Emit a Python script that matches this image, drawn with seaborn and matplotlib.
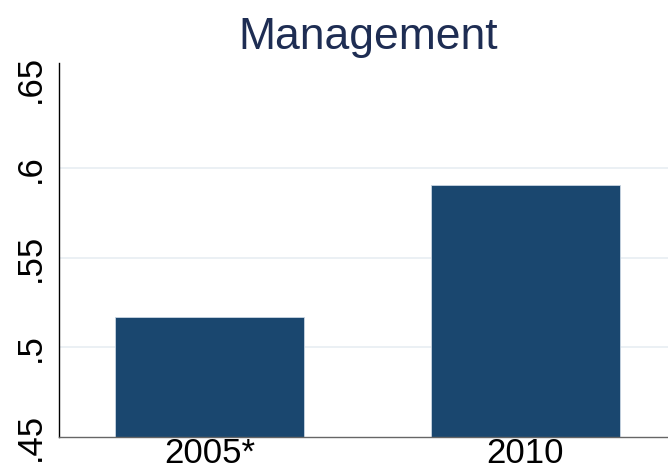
import pandas as pd
import seaborn as sns
import matplotlib.pyplot as plt

# Chart data
years = ['2005*', '2010']
management = [0.517, 0.591]
y_ticks = [0.45, 0.5, 0.55, 0.6, 0.65]
y_tick_labels = ['.45', '.5', '.55', '.6', '.65']
grid_levels = [0.5, 0.55, 0.6]

df = pd.DataFrame({'year': years, 'value': management})

sns.set_style('white')
plt.rcParams['font.family'] = ['Liberation Sans', 'DejaVu Sans']

fig = plt.figure(figsize=(6.68, 4.72), dpi=100)
ax = fig.add_axes([0.089, 0.075, 0.911, 0.7915])

for level in grid_levels:
    ax.axhline(level, color='#e8eef2', linewidth=1.2, zorder=0)

sns.barplot(data=df, x='year', y='value', color='#1a476f', saturation=1,
            width=0.598, edgecolor='#c9d6e3', linewidth=0.6, ax=ax, zorder=2)

ax.set_ylim(0.45, 0.659)
ax.set_xlim(-0.475, 1.451)
ax.set_yticks(y_ticks)
ax.set_yticklabels(y_tick_labels, rotation=90, va='center', fontsize=25)
ax.tick_params(axis='y', direction='out', length=7, width=1, color='black',
               labelcolor='black', pad=2)
ax.tick_params(axis='x', length=0, labelsize=25, labelcolor='black', pad=0)
ax.set_xlabel('')
ax.set_ylabel('')

for side in ['top', 'right']:
    ax.spines[side].set_visible(False)
ax.spines['left'].set_color('black')
ax.spines['left'].set_linewidth(1)
ax.spines['bottom'].set_color('#666666')
ax.spines['bottom'].set_linewidth(1)

ax.set_title('Management', fontsize=32, color='#1e2d53', pad=10, x=0.508)

fig.savefig('out.png', dpi=100)
